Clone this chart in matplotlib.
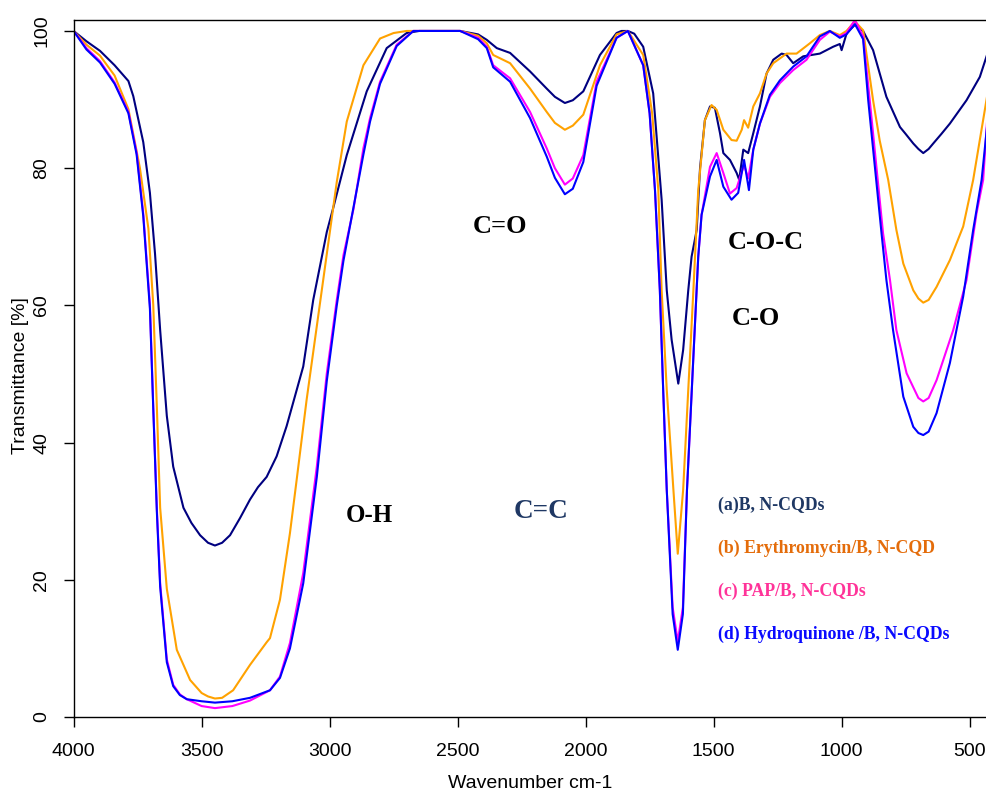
import numpy as np
import matplotlib
matplotlib.use("Agg")
import matplotlib.pyplot as plt

# (a) B, N-CQDs  -- navy
wn_a = [4000, 3950, 3897, 3840, 3786, 3767, 3728, 3702, 3682, 3662, 3636, 3611, 3571, 3540,
        3506, 3475, 3448, 3420, 3389, 3350, 3311, 3280, 3246, 3207, 3168, 3103, 3064, 3011,
        2986, 2933, 2855, 2777, 2699, 2650, 2600, 2490, 2420, 2386, 2347, 2295, 2217, 2152,
        2120, 2081, 2050, 2009, 1944, 1879, 1860, 1835, 1810, 1775, 1736, 1703, 1683, 1664,
        1638, 1619, 1599, 1586, 1566, 1553, 1534, 1514, 1495, 1475, 1462, 1436, 1410, 1400,
        1384, 1365, 1345, 1319, 1293, 1267, 1234, 1215, 1189, 1150, 1085, 1033, 1007, 1000,
        980, 948, 916, 877, 851, 825, 772, 750, 720, 700, 681, 660, 642, 610, 577, 512, 460, 432]
tr_a = [100, 98.5, 97.1, 95.0, 92.7, 90.5, 83.8, 76.4, 67.5, 56.4, 43.9, 36.5, 30.5, 28.3,
        26.5, 25.4, 25.0, 25.4, 26.5, 29.0, 31.7, 33.5, 35.0, 38.0, 42.4, 51.1, 60.8, 70.7,
        74.2, 81.9, 91.2, 97.5, 99.7, 100, 100, 100, 99.5, 98.7, 97.5, 96.8, 94.1, 91.6,
        90.4, 89.5, 89.9, 91.2, 96.5, 99.7, 100, 100, 99.6, 97.7, 90.9, 75.4, 62.2, 55.0,
        48.6, 53.5, 62.2, 67.1, 71.0, 80.0, 87.0, 89.0, 88.8, 85.1, 82.2, 81.2, 79.3, 78.3,
        82.7, 82.2, 85.1, 89.0, 93.8, 95.8, 96.7, 96.5, 95.3, 96.3, 96.7, 97.7, 98.1, 97.2,
        99.7, 100.9, 100, 97.2, 93.8, 90.4, 86.0, 85.0, 83.6, 82.8, 82.2, 82.8, 83.6, 85.0, 86.5, 89.9,
        93.3, 96.5]

# (b) Erythromycin/B, N-CQD  -- orange
wn_b = [4000, 3950, 3897, 3840, 3786, 3741, 3708, 3689, 3675, 3662, 3636, 3597, 3545, 3500,
        3475, 3448, 3420, 3377, 3311, 3246, 3233, 3194, 3155, 3129, 3090, 3044, 3011, 2972,
        2933, 2868, 2803, 2750, 2699, 2600, 2490, 2420, 2386, 2361, 2295, 2217, 2152, 2120,
        2081, 2050, 2009, 1944, 1879, 1835, 1775, 1740, 1716, 1703, 1683, 1657, 1640, 1619,
        1599, 1579, 1560, 1534, 1508, 1488, 1462, 1430, 1410, 1390, 1381, 1365, 1345, 1319,
        1293, 1267, 1215, 1176, 1124, 1085, 1046, 1007, 981, 948, 916, 877, 851, 818, 786,
        759, 720, 700, 681, 660, 629, 577, 525, 486, 432]
tr_b = [100, 98.0, 96.4, 93.5, 88.6, 80.0, 71.2, 60.1, 45.3, 30.5, 18.7, 9.8, 5.4, 3.5,
        3.0, 2.7, 2.8, 3.9, 7.6, 10.9, 11.5, 17.1, 26.8, 34.5, 46.2, 58.6, 67.5, 78.0,
        86.8, 95.0, 98.9, 99.7, 100, 100, 100, 99.3, 98.2, 96.5, 95.3, 91.6, 88.2, 86.6,
        85.6, 86.2, 87.8, 95.0, 99.5, 100, 96.5, 88.0, 76.8, 62.2, 47.7, 33.1, 23.8, 33.1,
        47.7, 62.2, 76.8, 87.0, 89.2, 88.5, 85.6, 84.1, 84.0, 85.6, 87.0, 85.9, 89.0, 90.9,
        93.8, 95.3, 96.7, 96.7, 98.2, 99.4, 100, 99.4, 100, 101.4, 100.1, 89.9, 84.0, 78.3, 71.0,
        66.1, 62.2, 61.0, 60.4, 60.8, 62.7, 66.6, 71.5, 78.3, 90.4]

# (c) PAP/B, N-CQDs  -- magenta
wn_c = [4000, 3950, 3897, 3840, 3786, 3754, 3728, 3702, 3689, 3675, 3662, 3636, 3611, 3585,
        3558, 3500, 3448, 3380, 3311, 3233, 3194, 3155, 3103, 3050, 3011, 2972, 2946, 2907,
        2868, 2842, 2803, 2738, 2673, 2490, 2420, 2386, 2361, 2295, 2217, 2152, 2120, 2081,
        2050, 2009, 1957, 1879, 1835, 1775, 1750, 1729, 1710, 1697, 1683, 1660, 1640, 1620,
        1604, 1579, 1560, 1547, 1514, 1488, 1462, 1436, 1410, 1381, 1365, 1345, 1319, 1280,
        1241, 1189, 1137, 1085, 1046, 1007, 981, 948, 916, 890, 864, 838, 811, 786, 746,
        700, 681, 660, 629, 564, 512, 473, 447, 432]
tr_c = [100, 97.5, 95.6, 92.5, 88.2, 82.3, 73.4, 60.1, 45.3, 30.5, 19.5, 8.4, 4.7, 3.3,
        2.6, 1.6, 1.3, 1.6, 2.4, 3.9, 5.9, 10.8, 21.0, 36.5, 50.1, 60.8, 67.3, 74.0,
        82.9, 87.3, 92.6, 98.0, 100, 100, 99.0, 97.7, 95.0, 93.1, 88.2, 82.9, 80.0, 77.6,
        78.5, 81.9, 92.6, 99.0, 100, 95.0, 88.0, 76.8, 62.2, 47.7, 33.1, 16.0, 11.0, 16.0,
        33.1, 52.5, 67.1, 73.2, 80.2, 82.2, 79.3, 76.3, 77.1, 80.5, 78.5, 82.7, 86.5, 90.4,
        92.4, 94.3, 95.8, 98.7, 99.9, 99.2, 99.7, 101.6, 99.2, 89.9, 80.2, 70.5, 63.7, 56.4, 50.1,
        46.5, 46.0, 46.5, 49.1, 56.4, 63.7, 73.4, 78.3, 86.7]

# (d) Hydroquinone /B, N-CQDs  -- blue
wn_d = [4000, 3950, 3897, 3840, 3786, 3754, 3728, 3702, 3689, 3675, 3662, 3636, 3611, 3585,
        3558, 3500, 3448, 3380, 3311, 3233, 3194, 3155, 3103, 3050, 3011, 2972, 2946, 2868,
        2842, 2803, 2738, 2673, 2490, 2420, 2386, 2361, 2295, 2217, 2152, 2120, 2081, 2050,
        2009, 1957, 1879, 1835, 1775, 1750, 1729, 1710, 1697, 1683, 1660, 1640, 1620, 1604,
        1579, 1560, 1547, 1514, 1488, 1462, 1430, 1404, 1381, 1362, 1345, 1319, 1280, 1241,
        1189, 1137, 1085, 1046, 1007, 981, 948, 916, 896, 870, 844, 825, 799, 759, 720,
        700, 681, 660, 629, 577, 525, 486, 453, 432]
tr_d = [100, 97.3, 95.4, 92.3, 88.0, 82.0, 73.0, 59.5, 45.0, 30.0, 19.0, 8.0, 4.5, 3.2,
        2.6, 2.3, 2.1, 2.3, 2.8, 3.9, 5.7, 10.0, 19.5, 35.0, 49.0, 60.0, 66.5, 82.0,
        86.8, 92.3, 97.8, 100, 100, 98.8, 97.5, 94.7, 92.6, 87.3, 81.7, 78.6, 76.2, 77.0,
        80.9, 92.0, 99.0, 100, 95.0, 88.0, 76.8, 62.2, 47.7, 33.1, 15.0, 9.8, 15.0, 33.1,
        52.5, 67.1, 73.2, 78.8, 81.2, 77.3, 75.4, 76.4, 81.2, 76.8, 82.7, 86.5, 90.7, 92.8,
        94.8, 96.3, 99.2, 100, 99.0, 99.5, 101.0, 98.8, 89.9, 80.2, 70.5, 63.7, 56.4, 46.7, 42.3,
        41.4, 41.1, 41.6, 44.3, 51.6, 61.3, 71.0, 78.3, 86.0]

xticks = [4000, 3500, 3000, 2500, 2000, 1500, 1000, 500]
yticks = [0, 20, 40, 60, 80, 100]

series = [
    (wn_a, tr_a, "#000080"),
    (wn_b, tr_b, "#ffa200"),
    (wn_c, tr_c, "#ff00ff"),
    (wn_d, tr_d, "#0000ff"),
]

legend_labels = ["(a)B, N-CQDs", "(b) Erythromycin/B, N-CQD",
                 "(c) PAP/B, N-CQDs", "(d) Hydroquinone /B, N-CQDs"]
legend_colors = ["#1f3864", "#e46c0a", "#ff3399", "#0a0aff"]

sans = ["Liberation Sans Narrow", "Liberation Sans", "DejaVu Sans"]
serif = ["Liberation Serif", "DejaVu Serif"]

fig = plt.figure(figsize=(9.87, 7.96), dpi=100)
ax = fig.add_axes([0.0746, 0.0992, 0.9254, 0.8757])

for wn, tr, col in series:
    ax.plot(wn, tr, color=col, lw=1.5)

ax.set_xlim(4000, 432)
ax.set_ylim(0, 101.6)
ax.set_xticks(xticks)
ax.set_yticks(yticks)
ax.set_xticklabels([str(v) for v in xticks], family=sans, fontsize=14)
ax.set_yticklabels([str(v) for v in yticks], family=sans, fontsize=14,
                   rotation=90, va="center")
ax.tick_params(direction="out", length=7, width=1)
ax.tick_params(axis="x", pad=12)
ax.tick_params(axis="y", pad=10)
ax.spines["right"].set_visible(False)
for s in ["left", "bottom", "top"]:
    ax.spines[s].set_linewidth(1.0)

ax.set_xlabel("Wavenumber cm-1", family=sans, fontsize=14, va="center")
ax.set_ylabel("Transmittance [%]", family=sans, fontsize=14, va="center")
ax.xaxis.set_label_coords(0.5, -0.0947)
ax.yaxis.set_label_coords(-0.0587, 0.49)

ax.text(2336, 71.5, "C=O", family=serif, fontsize=19, fontweight="bold",
        ha="center", va="center")
ax.text(1296, 69.1, "C-O-C", family=serif, fontsize=19, fontweight="bold",
        ha="center", va="center")
ax.text(1334, 58.1, "C-O", family=serif, fontsize=19, fontweight="bold",
        ha="center", va="center")
ax.text(2843, 29.4, "O-H", family=serif, fontsize=18, fontweight="bold",
        ha="center", va="center")
ax.text(2174, 29.9, "C=C", family=serif, fontsize=19.5, fontweight="bold",
        color="#1f3864", ha="center", va="center")

for i, (lab, col) in enumerate(zip(legend_labels, legend_colors)):
    ax.text(1483, 30.9 - i * 6.27, lab, family=serif, fontsize=12.8,
            fontweight="bold", color=col, ha="left", va="center")

fig.savefig("out.png", dpi=100)
